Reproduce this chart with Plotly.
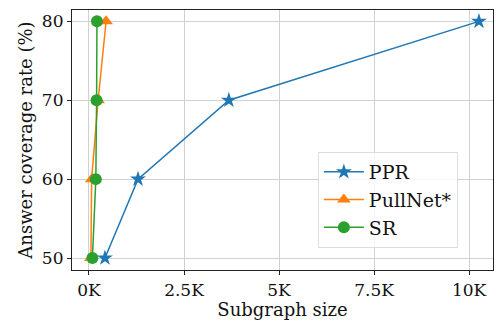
import plotly.graph_objects as go

coverage = [50, 60, 70, 80]
ppr_size = [0.42, 1.29, 3.68, 10.26]
pullnet_size = [0.05, 0.07, 0.24, 0.45]
sr_size = [0.09, 0.18, 0.20, 0.21]
x_tickvals = [0, 2.5, 5, 7.5, 10]
x_ticktext = ["0K", "2.5K", "5K", "7.5K", "10K"]
y_tickvals = [50, 60, 70, 80]

FONT = "DejaVu Serif"

fig = go.Figure()
fig.add_trace(go.Scatter(x=ppr_size, y=coverage, name="PPR", mode="lines+markers",
                         legendgroup="a",
                         line=dict(color="#1f77b4", width=1.5),
                         marker=dict(symbol="star", size=12, color="#1f77b4")))
fig.add_trace(go.Scatter(x=pullnet_size, y=coverage, name="PullNet*", mode="lines+markers",
                         legendgroup="b",
                         line=dict(color="#ff7f0e", width=1.5),
                         marker=dict(symbol="triangle-up", size=12, color="#ff7f0e")))
fig.add_trace(go.Scatter(x=sr_size, y=coverage, name="SR", mode="lines+markers",
                         legendgroup="c",
                         line=dict(color="#2ca02c", width=1.5),
                         marker=dict(symbol="circle", size=12, color="#2ca02c")))

axis_common = dict(showline=True, linecolor="#222", linewidth=1.2, mirror=True,
                   showgrid=True, gridcolor="#d0d0d0", gridwidth=1, zeroline=False,
                   ticks="outside", ticklen=4, tickcolor="#222",
                   tickfont=dict(family=FONT, size=17, color="#111"))

fig.update_layout(
    width=496, height=326,
    margin=dict(l=72, r=3, t=10, b=56),
    paper_bgcolor="white", plot_bgcolor="white",
    font=dict(family=FONT, size=17, color="#111"),
    xaxis=dict(range=[-0.447, 10.63], tickvals=x_tickvals, ticktext=x_ticktext,
               title=dict(text="Subgraph size", font=dict(family=FONT, size=18), standoff=1),
               **axis_common),
    yaxis=dict(range=[48.48, 81.44], tickvals=y_tickvals,
               title=dict(text="Answer coverage rate (%)", font=dict(family=FONT, size=18), standoff=4),
               **axis_common),
    legend=dict(x=0.584, y=0.454, xanchor="left", yanchor="top",
                bgcolor="rgba(255,255,255,0.8)", bordercolor="#dddddd", borderwidth=1,
                font=dict(family=FONT, size=19), itemwidth=40, tracegroupgap=9,
                traceorder="normal"),
    showlegend=True,
)

fig.write_html("out.html")
